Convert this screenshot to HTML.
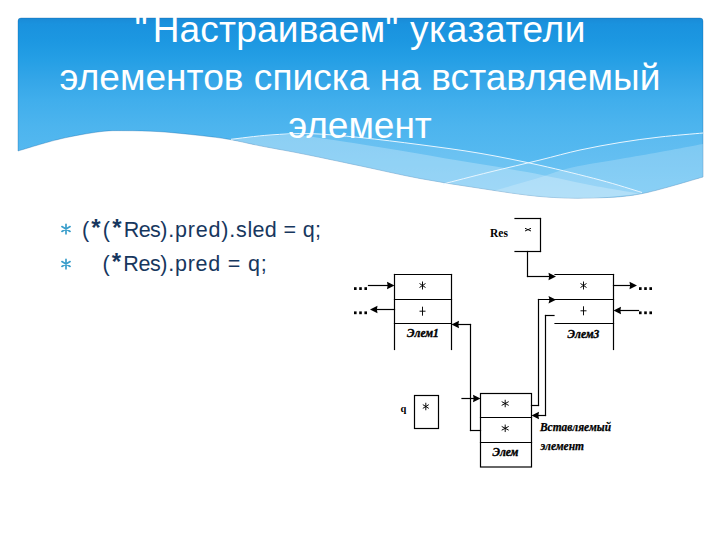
<!DOCTYPE html>
<html><head><meta charset="utf-8">
<style>
html,body{margin:0;padding:0;background:#fff;}
body{width:720px;height:540px;position:relative;overflow:hidden;font-family:"Liberation Sans",sans-serif;}
svg{position:absolute;left:0;top:0;}
.t{position:absolute;left:0;width:720px;text-align:center;color:#fff;font-size:37px;line-height:48px;white-space:nowrap;}
.b b{font-size:24px;line-height:0;vertical-align:1px;}
.b{position:absolute;color:#17375e;font-size:21.5px;line-height:26px;white-space:nowrap;letter-spacing:0.78px;}
.d line{stroke:#000;stroke-width:1.2;stroke-linecap:square;}
.d rect{stroke:#000;stroke-width:1.2;}
.d .f{fill:#000;stroke:none;}
.dt{font-family:"Liberation Serif",serif;font-weight:bold;fill:#000;}
</style></head><body>
<svg width="720" height="540">
<defs>
<linearGradient id="g" x1="0" y1="18" x2="0" y2="198" gradientUnits="userSpaceOnUse">
<stop offset="0" stop-color="#1a8ad6"/>
<stop offset="0.033" stop-color="#1a92de"/>
<stop offset="0.122" stop-color="#1c97e1"/>
<stop offset="0.233" stop-color="#259fe5"/>
<stop offset="0.344" stop-color="#34a6e8"/>
<stop offset="0.456" stop-color="#40aeec"/>
<stop offset="0.594" stop-color="#4cb4ee"/>
<stop offset="1" stop-color="#62c0f3"/>
</linearGradient>
</defs>
<path d="M18,21 Q18,18 21,18 L700,18 Q703,18 703,21 L703,177 C692.5,179.8 658.8,190.5 640.0,194.0 C621.2,197.5 606.7,197.6 590.0,198.0 C573.3,198.4 558.3,198.1 540.0,196.5 C521.7,194.9 500.0,191.3 480.0,188.3 C460.0,185.3 440.0,182.2 420.0,178.5 C400.0,174.8 380.0,170.0 360.0,165.8 C340.0,161.6 316.7,156.6 300.0,153.3 C283.3,150.0 271.7,148.1 260.0,145.8 C248.3,143.5 240.0,141.2 230.0,139.5 C220.0,137.8 211.7,136.8 200.0,135.5 C188.3,134.2 172.5,132.5 160.0,131.7 C147.5,130.9 135.0,130.7 125.0,130.7 C115.0,130.7 110.8,130.3 100.0,131.7 C89.2,133.1 73.7,135.8 60.0,139.0 C46.3,142.2 25.0,149.0 18.0,151.0 Z" fill="url(#g)" stroke="#0a5a9a" stroke-opacity="0.3" stroke-width="1"/>
<path d="M443,184 C450.8,182.0 473.8,176.0 490.0,172.0 C506.2,168.0 525.0,163.7 540.0,160.0 C555.0,156.3 566.7,152.9 580.0,150.0 C593.3,147.1 606.7,144.7 620.0,142.5 C633.3,140.3 646.2,138.6 660.0,137.0 C673.8,135.4 695.8,133.7 703.0,133.0 L703,177 C692.5,179.8 658.8,190.5 640.0,194.0 C621.2,197.5 606.7,197.6 590.0,198.0 C573.3,198.4 558.3,198.1 540.0,196.5 C521.7,194.9 496.2,190.6 480.0,188.3 C463.8,186.1 449.2,183.9 443.0,183.0 Z" fill="#fff" fill-opacity="0.08"/>
<path d="M231,139.3 C237.5,138.6 256.8,135.9 270.0,135.0 C283.2,134.1 295.0,133.2 310.0,133.6 C325.0,134.0 341.7,135.7 360.0,137.5 C378.3,139.3 400.0,142.1 420.0,144.7 C440.0,147.3 460.0,149.9 480.0,153.3 C500.0,156.7 520.0,160.9 540.0,165.3 C560.0,169.8 583.0,175.5 600.0,180.0 C617.0,184.5 635.0,190.4 642.0,192.5 C633.3,194.7 607.0,197.6 590.0,198.0 C573.0,198.4 558.3,198.1 540.0,196.5 C521.7,194.9 500.0,191.3 480.0,188.3 C460.0,185.3 440.0,182.2 420.0,178.5 C400.0,174.8 380.0,170.0 360.0,165.8 C340.0,161.6 316.7,156.6 300.0,153.3 C283.3,150.0 271.5,148.1 260.0,145.8 C248.5,143.5 235.8,140.4 231.0,139.3 Z" fill="#fff" fill-opacity="0.13"/>
<path d="M231,139.3 C237.5,138.7 258.5,136.1 270.0,135.5 C281.5,134.9 288.3,134.6 300.0,135.5 C311.7,136.4 323.3,138.5 340.0,141.0 C356.7,143.5 380.0,147.2 400.0,150.5 C420.0,153.8 438.8,157.2 460.0,160.8 C481.2,164.4 505.3,168.0 527.0,172.0 C548.7,176.0 570.8,181.3 590.0,185.0 C609.2,188.7 633.3,192.5 642.0,194.0 C633.3,194.7 607.0,197.6 590.0,198.0 C573.0,198.4 558.3,198.1 540.0,196.5 C521.7,194.9 500.0,191.3 480.0,188.3 C460.0,185.3 440.0,182.2 420.0,178.5 C400.0,174.8 380.0,170.0 360.0,165.8 C340.0,161.6 316.7,156.6 300.0,153.3 C283.3,150.0 271.5,148.1 260.0,145.8 C248.5,143.5 235.8,140.4 231.0,139.3 Z" fill="#fff" fill-opacity="0.25"/>
<path d="M495,190.5 C501.7,188.6 522.2,182.8 535.0,179.0 C547.8,175.2 557.8,170.8 572.0,167.5 C586.2,164.2 605.3,161.6 620.0,159.0 C634.7,156.4 646.2,154.5 660.0,152.0 C673.8,149.5 695.8,145.3 703.0,144.0 L703,177 C692.5,179.8 658.8,190.5 640.0,194.0 C621.2,197.5 606.7,197.6 590.0,198.0 C573.3,198.4 555.8,197.8 540.0,196.5 C524.2,195.2 502.5,191.5 495.0,190.5 Z" fill="#fff" fill-opacity="0.2"/>
<path d="M231,139.3 C237.5,138.6 256.8,135.9 270.0,135.0 C283.2,134.1 295.0,133.2 310.0,133.6 C325.0,134.0 341.7,135.7 360.0,137.5 C378.3,139.3 400.0,142.1 420.0,144.7 C440.0,147.3 460.0,149.9 480.0,153.3 C500.0,156.7 520.0,160.9 540.0,165.3 C560.0,169.8 583.0,175.5 600.0,180.0 C617.0,184.5 635.0,190.4 642.0,192.5" fill="none" stroke="#e8f6ff" stroke-width="1"/>
<path d="M443,184 C450.8,182.0 473.8,176.0 490.0,172.0 C506.2,168.0 525.0,163.7 540.0,160.0 C555.0,156.3 566.7,152.9 580.0,150.0 C593.3,147.1 606.7,144.7 620.0,142.5 C633.3,140.3 646.2,138.6 660.0,137.0 C673.8,135.4 695.8,133.7 703.0,133.0" fill="none" stroke="#e8f6ff" stroke-width="1"/>
<g fill="none" stroke="#3a9ecb" stroke-width="1.7" stroke-linecap="round">
<path d="M66,224.3 V233.8 M61.9,226.6 L70.1,231.4 M61.9,231.4 L70.1,226.6"/>
<path d="M66,259.3 V268.8 M61.9,261.6 L70.1,266.4 M61.9,266.4 L70.1,261.6"/>
</g>
<g class="d">
<line x1="515" y1="218.5" x2="540.5" y2="218.5"/><line x1="540.5" y1="218.5" x2="540.5" y2="251.5"/><line x1="515" y1="251.5" x2="540.5" y2="251.5"/><line x1="527.5" y1="251.5" x2="527.5" y2="276.5"/><line x1="527.5" y1="276.5" x2="549.1" y2="276.5"/><polygon points="556,276.5 548.5,272.7 549.1,276.5 548.5,280.3" class="f"/><line x1="394.5" y1="274.5" x2="451.5" y2="274.5"/><line x1="394.5" y1="299.5" x2="451.5" y2="299.5"/><line x1="394.5" y1="323.5" x2="451.5" y2="323.5"/><line x1="394.5" y1="274.5" x2="394.5" y2="349.5"/><line x1="451.5" y1="274.5" x2="451.5" y2="349.5"/><line x1="368.5" y1="285.5" x2="387.6" y2="285.5"/><polygon points="394.5,285.5 387.0,281.7 387.6,285.5 387.0,289.3" class="f"/><line x1="394.5" y1="309.5" x2="376.9" y2="309.5"/><polygon points="370,309.5 377.5,305.7 376.9,309.5 377.5,313.3" class="f"/><line x1="470.5" y1="324.5" x2="458.4" y2="324.5"/><polygon points="451.5,324.5 459.0,320.7 458.4,324.5 459.0,328.3" class="f"/><line x1="470.5" y1="324.5" x2="470.5" y2="430.5"/><line x1="470.5" y1="430.5" x2="480.5" y2="430.5"/><line x1="555" y1="274.5" x2="613.5" y2="274.5"/><line x1="555" y1="323.5" x2="613.5" y2="323.5"/><line x1="613.5" y1="274.5" x2="613.5" y2="349.5"/><line x1="538.5" y1="299.5" x2="613.5" y2="299.5"/><polygon points="556,299.8 548.5,296 549.5,299.8 548.5,303.6" class="f"/><line x1="613.5" y1="285.5" x2="630.1" y2="285.5"/><polygon points="637,285.5 629.5,281.7 630.1,285.5 629.5,289.3" class="f"/><line x1="638.5" y1="310.5" x2="620.4" y2="310.5"/><polygon points="613.5,310.5 621.0,306.7 620.4,310.5 621.0,314.3" class="f"/><line x1="538.5" y1="299.5" x2="538.5" y2="405.5"/><line x1="531.5" y1="405.5" x2="538.5" y2="405.5"/><line x1="545.5" y1="315.5" x2="545.5" y2="415.5"/><line x1="545.5" y1="315.5" x2="554" y2="315.5"/><line x1="545.5" y1="415.5" x2="538.4" y2="415.5"/><polygon points="531.5,415.5 539.0,411.7 538.4,415.5 539.0,419.3" class="f"/><rect x="414.5" y="395.5" width="24" height="33" fill="none"/><line x1="462" y1="398.5" x2="473.6" y2="398.5"/><polygon points="480.5,398.5 473.0,394.7 473.6,398.5 473.0,402.3" class="f"/><rect x="480.5" y="393.5" width="51" height="73.5" fill="none"/><line x1="480.5" y1="417.5" x2="531.5" y2="417.5"/><line x1="480.5" y1="442.5" x2="531.5" y2="442.5"/>
<rect x="354.0" y="287.2" width="2.6" height="2.8" class="f"/><rect x="359.2" y="287.2" width="2.6" height="2.8" class="f"/><rect x="364.4" y="287.2" width="2.6" height="2.8" class="f"/><rect x="354.0" y="311.4" width="2.6" height="2.8" class="f"/><rect x="359.2" y="311.4" width="2.6" height="2.8" class="f"/><rect x="364.4" y="311.4" width="2.6" height="2.8" class="f"/><rect x="639.0" y="287.2" width="2.6" height="2.8" class="f"/><rect x="644.2" y="287.2" width="2.6" height="2.8" class="f"/><rect x="649.4" y="287.2" width="2.6" height="2.8" class="f"/><rect x="639.0" y="311.4" width="2.6" height="2.8" class="f"/><rect x="644.2" y="311.4" width="2.6" height="2.8" class="f"/><rect x="649.4" y="311.4" width="2.6" height="2.8" class="f"/>
</g>
<g class="dt">
<text x="490" y="237" font-size="11.5">Res</text>
<text x="400.5" y="412" font-size="10.5">q</text>
</g>
<path fill="none" stroke="#000" stroke-width="0.95" d="M422.5,281.5 V289.5 M419.5,283.5 L425.5,287.5 M419.5,287.5 L425.5,283.5 M422.5,306.7 V315.7 M419.5,311.2 H425.5 M583.5,281.5 V289.5 M580.5,283.5 L586.5,287.5 M580.5,287.5 L586.5,283.5 M583.5,306.3 V315.3 M580.5,310.8 H586.5 M425.8,402.75 V410.25 M422.8,404.625 L428.8,408.375 M422.8,408.375 L428.8,404.625 M505.2,399.75 V407.25 M501.7,401.625 L508.7,405.375 M501.7,405.375 L508.7,401.625 M505.2,424.55 V432.05 M501.7,426.425 L508.7,430.175 M501.7,430.175 L508.7,426.425 M525,228.3 L531,231 M525,231 L531,228.3"/>
<g font-family="Liberation Serif" font-weight="bold" font-style="italic" fill="#000" stroke="#000" stroke-width="0.35" font-size="11.5" text-anchor="middle">
<text x="423" y="337">Элем1</text>
<text x="583.5" y="337.5">Элем3</text>
<text x="505.5" y="456">Элем</text>
</g>
<g font-family="Liberation Serif" font-weight="bold" font-style="italic" fill="#000" stroke="#000" stroke-width="0.25" font-size="11.5">
<text x="540" y="431" textLength="71" lengthAdjust="spacingAndGlyphs">Вставляемый</text>
<text x="540.5" y="450">элемент</text>
</g>
</svg>
<div class="t" style="top:5.5px;letter-spacing:0.62px;text-indent:0.6px"><span style="letter-spacing:5px">"</span><span style="letter-spacing:0.2px">Настраиваем</span>" указатели</div>
<div class="t" style="top:53.5px;letter-spacing:0.06px">элементов списка на вставляемый</div>
<div class="t" style="top:101.5px">элемент</div>
<div class="b" style="left:82px;top:217px"><span style="letter-spacing:2.15px">(<b>*</b>(<b>*</b></span><span style="letter-spacing:-0.5px">Res</span>).pred).s<span style="letter-spacing:0.35px">led = q;</span></div>
<div class="b" style="left:102.5px;top:250.5px"><span style="letter-spacing:2.15px">(<b>*</b></span><span style="letter-spacing:-0.45px">Res</span>).pred = q;</div>
</body></html>
